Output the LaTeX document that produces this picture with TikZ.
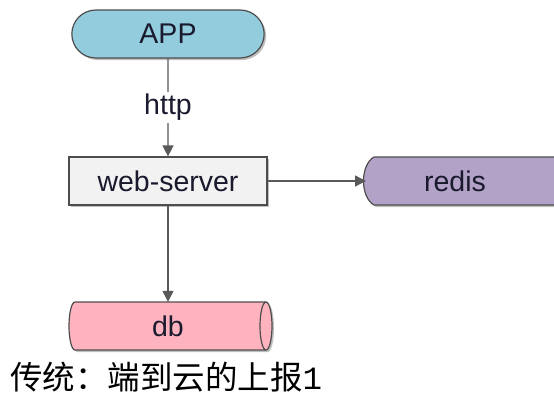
\documentclass[tikz,border=0pt]{standalone}
\usepackage{fontspec}
\setmainfont{Liberation Sans}
\newfontfamily\cjkfont{Noto Sans CJK SC}
\newfontfamily\monofont{Liberation Mono}
\usetikzlibrary{shapes.misc,arrows.meta,shadows}
\definecolor{appblue}{HTML}{93CDDD}
\definecolor{webgray}{HTML}{F2F2F2}
\definecolor{redispurple}{HTML}{B3A2C7}
\definecolor{dbpink}{HTML}{FFB3BF}
\definecolor{edgegray}{HTML}{595959}
\definecolor{outline}{HTML}{4D4D4D}
\definecolor{txt}{HTML}{1A1A2E}
\begin{document}
\begin{tikzpicture}[x=1pt,y=-1pt,
  lbl/.style={font=\fontsize{28.5}{31}\selectfont, text=txt},
  shad/.style={drop shadow={shadow xshift=2pt,shadow yshift=-2pt,opacity=0.25,fill=black}},
  box/.style={draw=outline, line width=1.2pt, lbl, shad},
  conn/.style={draw=edgegray, line width=1.4pt, -{Triangle[width=11pt,length=11pt]}}]
\useasboundingbox (0,0) rectangle (554,394);
\node[box, rounded rectangle, fill=appblue, minimum width=199pt, minimum height=48pt] (app) at (168,34) {APP};
\node[box, rectangle, fill=webgray, minimum width=198pt, minimum height=48pt] (web) at (168,181) {web-server};
% db cylinder
\path[box, fill=dbpink] (75,302) -- (266,302) arc[start angle=90, end angle=-90, x radius=6, y radius=-24] -- (75,350) arc[start angle=-90, end angle=-270, x radius=6, y radius=-24] -- cycle;
\draw[draw=outline, line width=1.2pt] (266,302) arc[start angle=90, end angle=270, x radius=6, y radius=-24];
\node[lbl, minimum height=48pt, minimum width=198pt, inner sep=0pt] (db) at (168,326) {db};
% redis shape
\begin{scope}
\clip (0,0) rectangle (554,394);
\path[box, fill=redispurple] (374,157) -- (600,157) -- (600,205) -- (374,205) .. controls (360,197) and (360,165) .. (374,157) -- cycle;
\end{scope}
\node[lbl, minimum height=48pt, minimum width=10pt, inner sep=0pt] (redis) at (455,181) {redis};
\coordinate (redisleft) at (366,181);
\draw[conn] (app) -- node[fill=white, lbl, inner sep=2pt] {http} (web);
\draw[conn] (web) -- (redisleft);
\draw[conn] (web) -- (db);
\node[anchor=base west, inner sep=0pt, font=\fontsize{32.5}{34}\selectfont] (cap) at (10,389) {\cjkfont 传统：端到云的上报{\monofont 1}};
\end{tikzpicture}
\end{document}
